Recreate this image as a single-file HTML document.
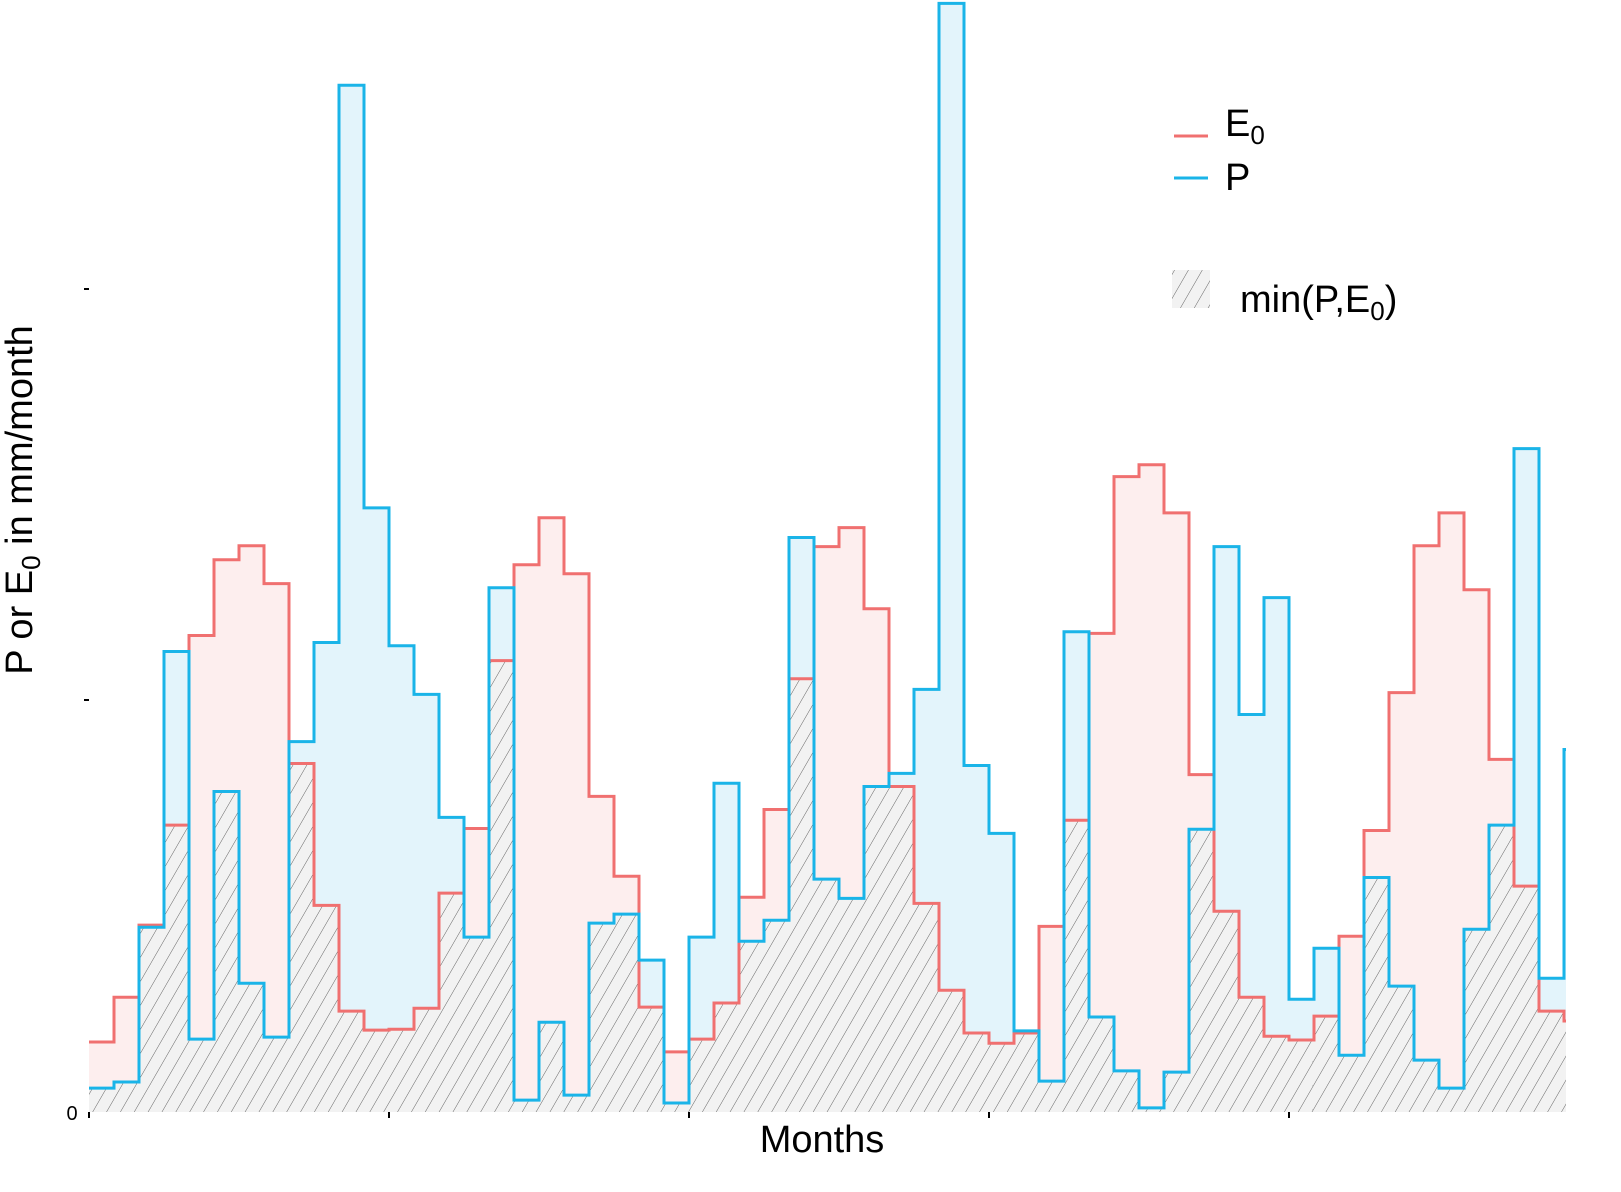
<!DOCTYPE html>
<html><head><meta charset="utf-8"><style>
html,body{margin:0;padding:0;background:#fff;}
svg{display:block;font-family:"Liberation Sans",sans-serif;}
</style></head><body>
<svg id="chart" width="1621" height="1192" viewBox="0 0 1621 1192" xmlns="http://www.w3.org/2000/svg">
<defs>
<pattern id="hatch" patternUnits="userSpaceOnUse" width="12" height="12" patternTransform="rotate(30)">
<rect width="12" height="12" fill="#f2f2f2"/>
<line x1="0" y1="0" x2="0" y2="12" stroke="#555" stroke-width="0.9"/>
</pattern>
</defs>
<g id="areas"></g>
<g id="lines"></g>
<g id="axes">
<line x1="84" y1="289" x2="89" y2="289" stroke="#000" stroke-width="2"/>
<line x1="84" y1="700" x2="89" y2="700" stroke="#000" stroke-width="2"/>
<text x="72" y="1120" font-size="20" text-anchor="middle">0</text>
<line x1="89" y1="1112" x2="89" y2="1118" stroke="#000" stroke-width="2"/>
<line x1="389" y1="1112" x2="389" y2="1118" stroke="#000" stroke-width="2"/>
<line x1="689" y1="1112" x2="689" y2="1118" stroke="#000" stroke-width="2"/>
<line x1="989" y1="1112" x2="989" y2="1118" stroke="#000" stroke-width="2"/>
<line x1="1289" y1="1112" x2="1289" y2="1118" stroke="#000" stroke-width="2"/>
<text x="822" y="1152" font-size="38" text-anchor="middle">Months</text>
<text transform="translate(32,500) rotate(-90)" font-size="38" text-anchor="middle">P or E<tspan font-size="26" dy="8">0</tspan><tspan dy="-8"> in mm/month</tspan></text>
</g>
<g id="legend">
<g>
<line x1="1174" y1="136" x2="1208" y2="136" stroke="#f07070" stroke-width="3"/>
<text x="1225" y="136" font-size="38">E<tspan font-size="26" dy="8">0</tspan></text>
</g>
<g>
<line x1="1174" y1="178" x2="1208" y2="178" stroke="#1ab4e8" stroke-width="3"/>
<text x="1225" y="190" font-size="38">P</text>
</g>
<g>
<rect x="1172" y="270" width="38" height="38" fill="url(#hatch)"/>
<text x="1240" y="312" font-size="38">min(P,E<tspan font-size="26" dy="8">0</tspan><tspan dy="-8">)</tspan></text>
</g>
</g>
</svg>
<script>
const months = Array.from({length:60},(_, i)=>i);
const precip = [5.8,7.3,44.9,111.9,17.7,77.9,31.3,18.2,90.0,114.1,249.5,146.8,113.3,101.5,71.6,42.5,127.4,2.9,21.8,4.1,45.9,48.1,36.9,2.2,42.5,79.9,41.5,46.6,139.6,56.6,51.9,79.1,82.3,102.7,269.4,84.2,67.7,19.7,7.5,116.7,23.1,10.0,1.0,9.7,68.7,137.4,96.6,125.0,27.4,39.8,13.8,57.0,30.6,12.6,5.8,44.4,69.7,161.2,32.5,88.1];
const evap = [17.0,27.9,45.4,69.7,115.8,134.2,137.6,128.4,84.7,50.2,24.5,19.9,20.1,25.2,53.2,68.9,109.7,133.0,144.4,130.8,76.7,57.3,25.5,14.6,17.7,26.5,52.2,73.5,105.3,137.4,142.0,122.3,79.1,50.7,29.6,19.2,16.7,19.2,45.1,70.9,116.3,154.4,157.3,145.6,82.0,48.8,27.9,18.4,17.5,23.3,42.7,68.4,101.9,137.6,145.6,126.9,85.7,54.9,24.5,22.1];
const yTicks = [0,100,200];
const X0=89, XW=25, XMAX=1566, Y0=1112, PXU=4.115;
function xs(i){return Math.min(X0+i*XW, XMAX);}
function ys(v){return Y0 - v*PXU;}
const NS="http://www.w3.org/2000/svg";
const areas=document.getElementById('areas'), lines=document.getElementById('lines');
months.forEach(i=>{
  const x1=xs(i), x2=xs(i+1); if(x2<=x1) return;
  const p=precip[i], e=evap[i], lo=Math.min(p,e), hi=Math.max(p,e);
  const r=document.createElementNS(NS,'rect');
  r.setAttribute('x',x1);r.setAttribute('width',x2-x1);
  r.setAttribute('y',ys(lo));r.setAttribute('height',Y0-ys(lo));
  r.setAttribute('fill','url(#hatch)');
  
  
  areas.appendChild(r);
  const d=document.createElementNS(NS,'rect');
  d.setAttribute('x',x1);d.setAttribute('width',x2-x1);
  d.setAttribute('y',ys(hi));d.setAttribute('height',ys(lo)-ys(hi));
  d.setAttribute('fill',p>e?'#e3f4fb':'#fdeeee');
  
  
  areas.appendChild(d);
});
function stepPath(vals){
  let s='';
  months.forEach(i=>{
    const x1=xs(i),x2=xs(i+1); if(x2<=x1) return;
    const y=ys(vals[i]);
    s+=(s?'L':'M')+x1+','+y+'L'+x2+','+y;
  });
  return s;
}
const pe=document.createElementNS(NS,'path');
pe.setAttribute('d',stepPath(evap));pe.setAttribute('fill','none');pe.setAttribute('stroke','#f07070');pe.setAttribute('stroke-width','3');


lines.appendChild(pe);
const pp=document.createElementNS(NS,'path');
pp.setAttribute('d',stepPath(precip));pp.setAttribute('fill','none');pp.setAttribute('stroke','#1ab4e8');pp.setAttribute('stroke-width','3');


lines.appendChild(pp);
</script>
</body></html>
